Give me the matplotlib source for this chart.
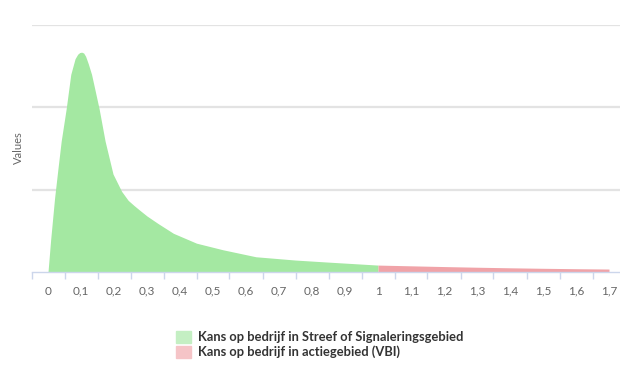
import matplotlib.pyplot as plt
from matplotlib.patches import Patch

# Data (y in grid units)
x_groen = [0, 0.008, 0.02, 0.03, 0.04, 0.055, 0.069, 0.082, 0.09, 0.096, 0.102, 0.108,
           0.114, 0.122, 0.132, 0.143, 0.155, 0.173, 0.197, 0.223, 0.243, 0.26, 0.275,
           0.3, 0.333, 0.38, 0.45, 0.53, 0.63, 0.75, 0.85, 1.0]
y_groen = [0, 0.39, 0.9, 1.25, 1.59, 1.98, 2.4, 2.59, 2.645, 2.665, 2.67, 2.66,
           2.62, 2.53, 2.4, 2.2, 1.98, 1.59, 1.19, 0.98, 0.87, 0.81, 0.76,
           0.68, 0.59, 0.47, 0.35, 0.27, 0.185, 0.145, 0.12, 0.084]
x_rood = [1.0, 1.1, 1.2, 1.3, 1.4, 1.5, 1.6, 1.7]
y_rood = [0.084, 0.075, 0.066, 0.058, 0.051, 0.045, 0.04, 0.036]

tick_waarden = [round(i * 0.1, 1) for i in range(18)]
tick_labels = ['0', '0,1', '0,2', '0,3', '0,4', '0,5', '0,6', '0,7', '0,8', '0,9',
               '1', '1,1', '1,2', '1,3', '1,4', '1,5', '1,6', '1,7']
legenda = ['Kans op bedrijf in Streef of Signaleringsgebied',
           'Kans op bedrijf in actiegebied (VBI)']

groen = '#a4e8a2'
rood = '#f0a3a8'

plt.rcParams['font.family'] = ['Lato', 'DejaVu Sans']

fig = plt.figure(figsize=(6.2, 3.8), dpi=100)
ax = fig.add_axes([31.5 / 620, 108 / 380, 594 / 620, 247 / 380])

ax.fill_between(x_groen, y_groen, 0, color=groen, lw=0)
ax.fill_between(x_rood, y_rood, 0, color=rood, lw=0)

ax.set_xlim(-0.05, 1.75)
ax.set_ylim(0, 3)

# gridlijnen
ax.set_yticks([1, 2, 3])
ax.yaxis.grid(True, color='#e3e3e3', lw=1.6)
ax.set_axisbelow(True)
ax.tick_params(axis='y', length=0, labelleft=False)

# x-as: streepjes tussen de categorieën, labels in het midden
grenzen = [t - 0.05 for t in tick_waarden] + [1.75]
ax.set_xticks(grenzen)
ax.set_xticklabels([])
ax.tick_params(axis='x', which='major', length=5, color='#ccd6eb', width=1)
ax.set_xticks(tick_waarden, minor=True)
ax.set_xticklabels(tick_labels, minor=True)
ax.tick_params(axis='x', which='minor', length=0, pad=10, labelsize=8.5, labelcolor='#666666')

for s in ['top', 'right', 'left']:
    ax.spines[s].set_visible(False)
ax.spines['bottom'].set_color('#ccd6eb')
ax.spines['bottom'].set_linewidth(1)

fig.text(18 / 620, 1 - 148 / 380, 'Values', rotation=90, ha='center', va='center',
         fontsize=8, color='#666666')

handles = [Patch(color='#c4efc3'), Patch(color='#f5c4c7')]
fig.legend(handles, legenda, loc='upper left', bbox_to_anchor=(176 / 620, 1 - 331 / 380),
           frameon=False, handlelength=1.15, handleheight=1.0, handletextpad=0.55,
           labelspacing=0.2, borderpad=0, borderaxespad=0,
           prop={'weight': 'bold', 'size': 9.3}, labelcolor='#333333')

plt.savefig('out.png', dpi=100)
